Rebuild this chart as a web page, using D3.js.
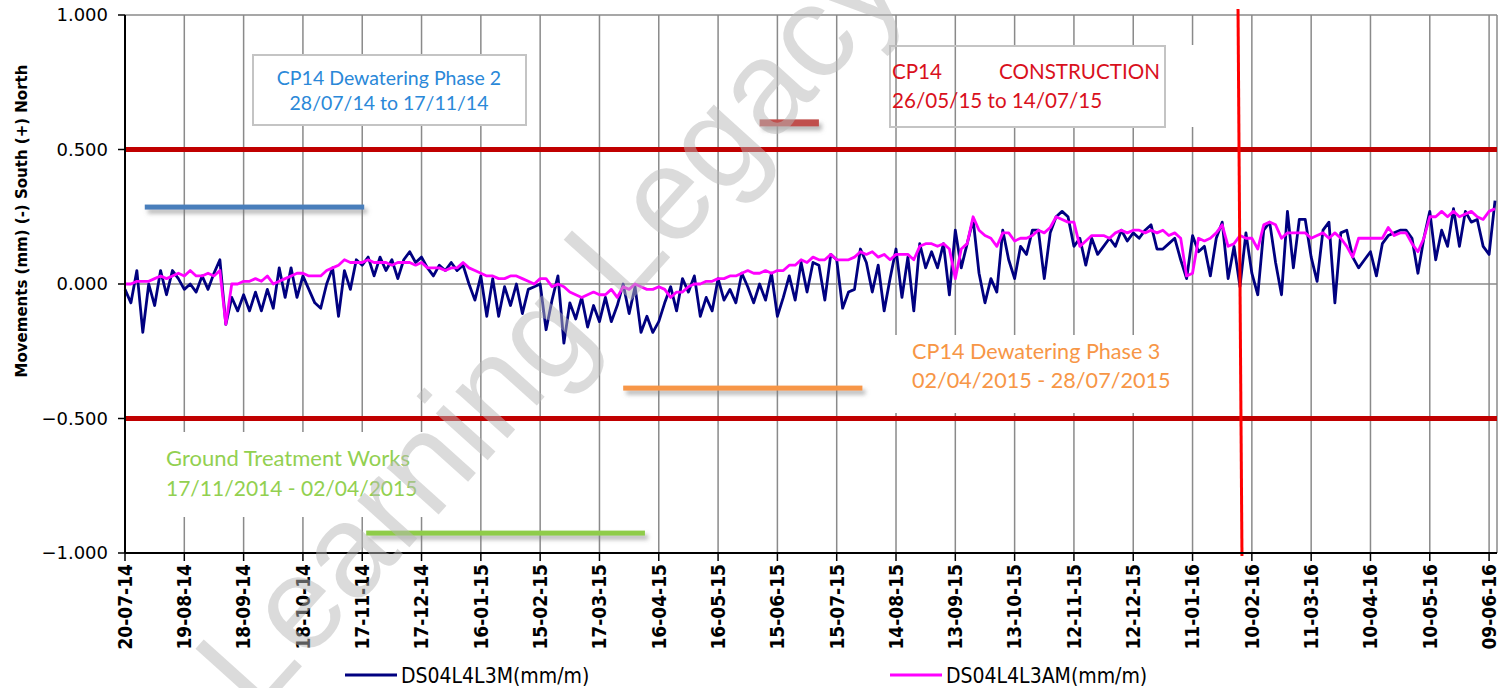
<!DOCTYPE html>
<html>
<head>
<meta charset="utf-8">
<script src="https://cdn.jsdelivr.net/npm/d3@7"></script>
<style>
  body { margin: 0; background: #fff; }
  svg { display: block; }
</style>
</head>
<body>
<svg id="chart" width="1502" height="688"></svg>
<script>
// readings every 3 days from the first date
const startDate = "2014-07-20";
const endDate = "2016-06-13";
const stepDays = 3;

const seriesNames = ["DS04L4L3M(mm/m)", "DS04L4L3AM(mm/m)"];

const ds04l4l3m = [
  -0.02, -0.07, 0.05, -0.18, 0.00, -0.08, 0.05, -0.04, 0.05, 0.02,
  -0.02, 0.00, -0.03, 0.03, -0.02, 0.04, 0.09, -0.15, -0.05, -0.10,
  -0.04, -0.10, -0.03, -0.10, -0.02, -0.09, 0.06, -0.05, 0.06, -0.05,
  0.03, -0.02, -0.07, -0.09, 0.00, 0.06, -0.12, 0.05, -0.02, 0.09,
  0.07, 0.10, 0.03, 0.10, 0.05, 0.09, 0.02, 0.09, 0.12, 0.08,
  0.10, 0.06, 0.03, 0.07, 0.05, 0.08, 0.05, 0.07, 0.00, -0.06,
  0.03, -0.12, 0.02, -0.12, -0.01, -0.08, 0.00, -0.11, -0.02, -0.01,
  0.00, -0.17, -0.06, 0.03, -0.22, -0.07, -0.13, -0.05, -0.16, -0.08,
  -0.14, -0.05, -0.14, -0.08, 0.00, -0.11, -0.01, -0.18, -0.12, -0.18,
  -0.14, -0.07, -0.01, -0.10, 0.02, -0.03, 0.03, -0.12, -0.05, -0.10,
  0.02, -0.06, -0.02, -0.07, 0.04, -0.01, -0.07, 0.00, -0.06, 0.04,
  -0.12, -0.05, 0.03, -0.06, 0.08, -0.03, 0.08, 0.07, -0.06, 0.11,
  0.09, -0.09, -0.03, -0.02, 0.13, 0.08, -0.03, 0.07, -0.10, 0.02,
  0.13, -0.05, 0.10, -0.10, 0.15, 0.06, 0.12, 0.06, 0.15, -0.04,
  0.20, 0.06, 0.15, 0.24, 0.04, -0.07, 0.02, -0.03, 0.20, 0.09,
  0.02, 0.14, 0.11, 0.20, 0.20, 0.02, 0.19, 0.25, 0.27, 0.25,
  0.14, 0.17, 0.07, 0.17, 0.11, 0.14, 0.17, 0.14, 0.20, 0.16,
  0.19, 0.17, 0.20, 0.22, 0.13, 0.13, 0.15, 0.17, 0.09, 0.02,
  0.18, 0.12, 0.14, 0.03, 0.17, 0.23, 0.02, 0.14, -0.01, 0.19,
  0.04, -0.04, 0.20, 0.23, 0.08, -0.04, 0.27, 0.06, 0.24, 0.24,
  0.10, 0.01, 0.20, 0.23, -0.07, 0.19, 0.20, 0.10, 0.06, 0.09,
  0.12, 0.03, 0.15, 0.18, 0.19, 0.20, 0.20, 0.17, 0.04, 0.17,
  0.27, 0.09, 0.20, 0.14, 0.28, 0.14, 0.27, 0.23, 0.24, 0.14,
  0.11, 0.31
];

const ds04l4l3am = [
  0.00, 0.00, 0.01, 0.01, 0.01, 0.02, 0.03, 0.02, 0.03, 0.04,
  0.03, 0.05, 0.03, 0.03, 0.04, 0.03, 0.05, -0.15, 0.00, 0.00,
  0.01, 0.01, 0.02, 0.01, 0.03, 0.00, 0.01, 0.02, 0.03, 0.04,
  0.04, 0.03, 0.03, 0.03, 0.05, 0.06, 0.07, 0.09, 0.08, 0.08,
  0.08, 0.09, 0.08, 0.08, 0.08, 0.07, 0.08, 0.08, 0.08, 0.07,
  0.08, 0.06, 0.06, 0.06, 0.05, 0.06, 0.06, 0.08, 0.06, 0.05,
  0.04, 0.03, 0.03, 0.02, 0.02, 0.03, 0.03, 0.02, 0.01, 0.00,
  0.02, 0.02, -0.01, 0.00, -0.01, -0.03, -0.04, -0.05, -0.04, -0.03,
  -0.04, -0.04, -0.02, -0.05, -0.01, -0.02, 0.00, -0.01, -0.02, -0.02,
  -0.01, -0.02, -0.05, -0.03, -0.03, -0.01, 0.00, 0.00, 0.01, 0.01,
  0.02, 0.02, 0.03, 0.03, 0.04, 0.05, 0.04, 0.04, 0.05, 0.04,
  0.05, 0.05, 0.07, 0.07, 0.09, 0.08, 0.10, 0.09, 0.09, 0.11,
  0.09, 0.09, 0.09, 0.10, 0.12, 0.11, 0.12, 0.10, 0.11, 0.09,
  0.11, 0.11, 0.11, 0.09, 0.14, 0.15, 0.15, 0.14, 0.15, 0.13,
  0.02, 0.13, 0.15, 0.25, 0.20, 0.18, 0.17, 0.14, 0.19, 0.19,
  0.16, 0.17, 0.17, 0.18, 0.20, 0.19, 0.21, 0.25, 0.24, 0.23,
  0.23, 0.14, 0.16, 0.18, 0.18, 0.18, 0.17, 0.19, 0.20, 0.19,
  0.20, 0.20, 0.19, 0.20, 0.19, 0.20, 0.18, 0.19, 0.17, 0.03,
  0.04, 0.17, 0.16, 0.17, 0.19, 0.22, 0.14, 0.15, 0.18, 0.17,
  0.17, 0.13, 0.22, 0.23, 0.22, 0.17, 0.19, 0.19, 0.19, 0.19,
  0.17, 0.18, 0.19, 0.17, 0.19, 0.17, 0.14, 0.10, 0.17, 0.17,
  0.17, 0.17, 0.17, 0.21, 0.18, 0.19, 0.19, 0.15, 0.12, 0.17,
  0.25, 0.25, 0.27, 0.25, 0.27, 0.25, 0.26, 0.27, 0.25, 0.24,
  0.27, 0.28
];

const tickLabels = [
  "20-07-14", "19-08-14", "18-09-14", "18-10-14", "17-11-14", "17-12-14",
  "16-01-15", "15-02-15", "17-03-15", "16-04-15", "16-05-15", "15-06-15",
  "15-07-15", "14-08-15", "13-09-15", "13-10-15", "12-11-15", "12-12-15",
  "11-01-16", "10-02-16", "11-03-16", "10-04-16", "10-05-16", "09-06-16"
];
const yTicks = [1, 0.5, 0, -0.5, -1];
const limitValues = [0.5, -0.5];

// phase bars drawn on the chart
const barStarts = ["2014-07-30", "2014-11-19", "2015-03-29", "2015-06-06"];
const barEnds   = ["2014-11-18", "2015-04-09", "2015-07-28", "2015-07-06"];
const barLevels = [0.286, -0.926, -0.387, 0.599];
const barColors = ["#4a7ebb", "#8fcc4a", "#f79646", "#c0504d"];

// red marker line (slightly slanted in the original)
const markerDates = ["2016-02-03", "2016-02-05"];

const parseDay = d3.timeParse("%Y-%m-%d");
const parseTick = d3.timeParse("%d-%m-%y");
const t0 = parseDay(startDate);

const svg = d3.select("#chart");

const x = d3.scaleTime()
  .domain([t0, parseDay(endDate)])
  .range([125, 1497]);
const y = d3.scaleLinear()
  .domain([-1, 1])
  .range([553, 15]);

const tickDates = tickLabels.map(parseTick);

const defs = svg.append("defs");
const shadow = defs.append("filter").attr("id", "shadow")
  .attr("x", "-10%").attr("y", "-150%").attr("width", "130%").attr("height", "500%");
shadow.append("feDropShadow")
  .attr("dx", 3).attr("dy", 4).attr("stdDeviation", 2)
  .attr("flood-color", "#7a7a7a").attr("flood-opacity", 0.55);

// vertical grid
svg.append("g")
  .selectAll("line")
  .data(tickDates)
  .join("line")
  .attr("x1", d => x(d)).attr("x2", d => x(d))
  .attr("y1", y(1)).attr("y2", y(-1))
  .attr("stroke", "#8a8a8a")
  .attr("stroke-width", 1.5);

// right frame
svg.append("line")
  .attr("x1", 1497).attr("x2", 1497).attr("y1", y(1)).attr("y2", y(-1))
  .attr("stroke", "#8a8a8a").attr("stroke-width", 1.5);

// white areas behind the text boxes
const covers = [
  [253, 55, 273, 70],
  [990, 45, 210, 82],
  [885, 335, 295, 78],
  [158, 432, 282, 85]
];
svg.append("g")
  .selectAll("rect")
  .data(covers)
  .join("rect")
  .attr("x", d => d[0]).attr("y", d => d[1])
  .attr("width", d => d[2]).attr("height", d => d[3])
  .attr("fill", "#fff");

// horizontal grid
svg.append("g")
  .selectAll("line")
  .data(yTicks)
  .join("line")
  .attr("x1", x.range()[0]).attr("x2", x.range()[1])
  .attr("y1", d => y(d)).attr("y2", d => y(d))
  .attr("stroke", "#8a8a8a")
  .attr("stroke-width", 1.5);

// limit lines
svg.append("g")
  .selectAll("line")
  .data(limitValues)
  .join("line")
  .attr("x1", x.range()[0]).attr("x2", x.range()[1])
  .attr("y1", d => y(d)).attr("y2", d => y(d))
  .attr("stroke", "#c00000")
  .attr("stroke-width", 5);

// phase bars
const barH = (d, i) => i === 3 ? 7 : 5;
svg.append("g")
  .selectAll("rect")
  .data(barLevels)
  .join("rect")
  .attr("x", (d, i) => x(parseDay(barStarts[i])))
  .attr("width", (d, i) => x(parseDay(barEnds[i])) - x(parseDay(barStarts[i])))
  .attr("y", (d, i) => y(d) - barH(d, i) / 2)
  .attr("height", barH)
  .attr("fill", (d, i) => barColors[i])
  .attr("filter", "url(#shadow)");

// data lines
const line = d3.line()
  .x((d, i) => x(d3.timeDay.offset(t0, i * stepDays)))
  .y(d => y(d));

svg.append("path")
  .datum(ds04l4l3m)
  .attr("d", line)
  .attr("fill", "none")
  .attr("stroke", "#000080")
  .attr("stroke-width", 2.8)
  .attr("stroke-linejoin", "round");

svg.append("path")
  .datum(ds04l4l3am)
  .attr("d", line)
  .attr("fill", "none")
  .attr("stroke", "#ff00ff")
  .attr("stroke-width", 2.8)
  .attr("stroke-linejoin", "round");

// red marker line
svg.append("line")
  .attr("x1", x(parseDay(markerDates[0]))).attr("y1", 9)
  .attr("x2", x(parseDay(markerDates[1]))).attr("y2", 556)
  .attr("stroke", "#ff0000")
  .attr("stroke-width", 3);

// axes
svg.append("line")
  .attr("x1", 125).attr("x2", 125).attr("y1", y(1)).attr("y2", y(-1))
  .attr("stroke", "#000").attr("stroke-width", 2);
svg.append("line")
  .attr("x1", 125).attr("x2", 1497).attr("y1", y(-1)).attr("y2", y(-1))
  .attr("stroke", "#000").attr("stroke-width", 2);

svg.append("g")
  .selectAll("line")
  .data(yTicks)
  .join("line")
  .attr("x1", 118).attr("x2", 125)
  .attr("y1", d => y(d)).attr("y2", d => y(d))
  .attr("stroke", "#000").attr("stroke-width", 1.5);

svg.append("g")
  .selectAll("text")
  .data(yTicks)
  .join("text")
  .attr("x", 108)
  .attr("y", d => y(d))
  .attr("dy", "0.36em")
  .attr("text-anchor", "end")
  .attr("font-family", "DejaVu Sans")
  .attr("font-size", 18)
  .attr("fill", "#000")
  .text(d => d3.format(".3f")(d));

svg.append("g")
  .selectAll("line")
  .data(tickDates)
  .join("line")
  .attr("x1", d => x(d)).attr("x2", d => x(d))
  .attr("y1", y(-1)).attr("y2", y(-1) + 8)
  .attr("stroke", "#000").attr("stroke-width", 1.5);

svg.append("g")
  .selectAll("text")
  .data(tickDates)
  .join("text")
  .attr("transform", d => `translate(${x(d)},564) rotate(-90)`)
  .attr("dy", "0.36em")
  .attr("text-anchor", "end")
  .attr("font-family", "'DejaVu Sans Condensed', 'DejaVu Sans'")
  .attr("font-stretch", "condensed")
  .attr("font-weight", "bold")
  .attr("font-size", 19)
  .attr("fill", "#000")
  .text((d, i) => tickLabels[i]);

svg.append("text")
  .attr("transform", "translate(22,221) rotate(-90)")
  .attr("dy", "0.36em")
  .attr("text-anchor", "middle")
  .attr("font-family", "DejaVu Sans")
  .attr("font-weight", "bold")
  .attr("font-size", 15)
  .text("Movements (mm) (-) South (+) North");

// text boxes
svg.append("rect")
  .attr("x", 253).attr("y", 55).attr("width", 273).attr("height", 70)
  .attr("fill", "none").attr("stroke", "#c4c4c4").attr("stroke-width", 2);
svg.append("rect")
  .attr("x", 890).attr("y", 46).attr("width", 275).attr("height", 81)
  .attr("fill", "none").attr("stroke", "#c4c4c4").attr("stroke-width", 2);

const notes = [
  { t: "CP14 Dewatering Phase 2", x: 389, y: 85, a: "middle", c: "#2a88d8", s: 19.5 },
  { t: "28/07/14 to 17/11/14", x: 389, y: 110, a: "middle", c: "#2a88d8", s: 19.5 },
  { t: "CP14", x: 892, y: 79, a: "start", c: "#d9101c", s: 20.6 },
  { t: "CONSTRUCTION", x: 999, y: 79, a: "start", c: "#d9101c", s: 20.6 },
  { t: "26/05/15 to 14/07/15", x: 892, y: 108, a: "start", c: "#d9101c", s: 20.6 },
  { t: "CP14 Dewatering Phase 3", x: 912, y: 359, a: "start", c: "#f79646", s: 21.6 },
  { t: "02/04/2015 - 28/07/2015", x: 912, y: 388, a: "start", c: "#f79646", s: 21.6 },
  { t: "Ground Treatment Works", x: 166, y: 466, a: "start", c: "#92d050", s: 22 },
  { t: "17/11/2014 - 02/04/2015", x: 166, y: 496, a: "start", c: "#92d050", s: 21 }
];
svg.append("g")
  .selectAll("text")
  .data(notes)
  .join("text")
  .attr("x", d => d.x).attr("y", d => d.y)
  .attr("text-anchor", d => d.a)
  .attr("font-family", "Lato")
  .attr("font-size", d => d.s)
  .attr("fill", d => d.c)
  .text(d => d.t);

// legend
const legendX = [345, 890];
const legendColors = ["#000080", "#ff00ff"];
const legend = svg.append("g")
  .selectAll("g")
  .data(seriesNames)
  .join("g")
  .attr("transform", (d, i) => `translate(${legendX[i]},675)`);
legend.append("line")
  .attr("x1", 0).attr("x2", 52)
  .attr("stroke", (d, i) => legendColors[i])
  .attr("stroke-width", 3);
legend.append("text")
  .attr("x", 56)
  .attr("dy", "0.36em")
  .attr("font-family", "'DejaVu Sans Condensed', 'DejaVu Sans'")
  .attr("font-stretch", "condensed")
  .attr("font-size", 21)
  .attr("fill", "#000")
  .text(d => d);

// watermark
svg.append("text")
  .attr("transform", "translate(548,324) rotate(-48)")
  .attr("text-anchor", "middle")
  .attr("dy", "0.35em")
  .attr("font-family", "Liberation Sans")
  .attr("font-size", 132)
  .attr("fill", "#b8b8b8")
  .attr("fill-opacity", 0.5)
  .text("Learning Legacy");
</script>
</body>
</html>
